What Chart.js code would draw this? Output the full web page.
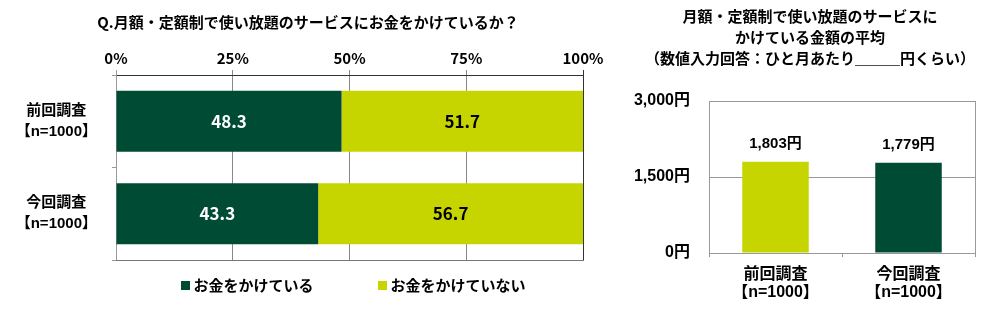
<!DOCTYPE html>
<html><head><meta charset="utf-8">
<script src="https://cdn.jsdelivr.net/npm/chart.js@4/dist/chart.umd.min.js"></script>
<style>
html,body{margin:0;padding:0;background:#fff;width:1000px;height:310px;overflow:hidden;position:relative;}
#c1{position:absolute;left:0;top:0;}
#c2{position:absolute;left:620px;top:0;}
</style></head><body>
<canvas id="c1" width="616" height="310"></canvas>
<canvas id="c2" width="380" height="310"></canvas>
<script>
// ---- data ----
const categories = [['前回調査','【n=1000】'], ['今回調査','【n=1000】']];
const seriesNames = ['お金をかけている', 'お金をかけていない'];
const spendingShare = [48.3, 43.3];
const notSpendingShare = [51.7, 56.7];
const percentTicks = [0, 25, 50, 75, 100];
const averageAmount = [1803, 1779];
const yenTicks = [0, 1500, 3000];
const leftTitle = 'Q.月額・定額制で使い放題のサービスにお金をかけているか？';
const rightTitle = ['月額・定額制で使い放題のサービスに', 'かけている金額の平均', '（数値入力回答：ひと月あたり＿＿＿円くらい）'];

// ---- styles ----
const DARK = '#004b33';
const LIME = '#c6d500';
const JP = "'Noto Sans CJK JP', sans-serif";
const NUMN = "'Liberation Sans Narrow', 'Noto Sans CJK JP', sans-serif";
const NUM = "'Liberation Sans', 'Noto Sans CJK JP', sans-serif";
const commas = v => String(v).replace(/\B(?=(\d{3})+(?!\d))/g, ',');

const insideLabels = {
  id: 'insideLabels',
  afterDatasetsDraw(chart) {
    const ctx = chart.ctx;
    const colors = ['#ffffff', '#000000'];
    chart.data.datasets.forEach((ds, i) => {
      chart.getDatasetMeta(i).data.forEach((el, j) => {
        ctx.save();
        ctx.font = "bold 17px " + NUMN;
        ctx.fillStyle = colors[i];
        ctx.textAlign = 'center';
        ctx.textBaseline = 'middle';
        ctx.fillText(ds.data[j].toFixed(1), (el.x + el.base) / 2, el.y);
        ctx.restore();
      });
    });
  }
};

const bottomLegend = {
  id: 'bottomLegend',
  afterDraw(chart) {
    const ctx = chart.ctx;
    ctx.save();
    ctx.font = "bold 15px " + JP;
    ctx.textBaseline = 'middle';
    ctx.textAlign = 'left';
    const items = chart.data.datasets.map(d => ({t: d.label, c: d.backgroundColor, w: ctx.measureText(d.label).width}));
    const box = 9, gap = 3, sp = 65;
    const total = items.reduce((a, it) => a + box + gap + it.w, 0) + sp * (items.length - 1);
    let x = (chart.chartArea.left + chart.chartArea.right) / 2 + 4 - total / 2;
    const y = chart.chartArea.bottom + 25;
    items.forEach(it => {
      ctx.fillStyle = it.c;
      ctx.fillRect(Math.round(x), Math.round(y - 4.5), box, box);
      ctx.fillStyle = '#000';
      ctx.fillText(it.t, x + box + gap, y);
      x += box + gap + it.w + sp;
    });
    ctx.restore();
  }
};

const topLabels = {
  id: 'topLabels',
  afterDatasetsDraw(chart) {
    const ctx = chart.ctx;
    chart.data.datasets.forEach((ds, i) => {
      chart.getDatasetMeta(i).data.forEach((el, j) => {
        ctx.save();
        ctx.font = "bold 15px " + NUM;
        ctx.fillStyle = '#000';
        ctx.textAlign = 'center';
        ctx.textBaseline = 'middle';
        ctx.fillText(commas(ds.data[j]) + '円', el.x, el.y - 18);
        ctx.restore();
      });
    });
  }
};

new Chart(document.getElementById('c1'), {
  type: 'bar',
  data: {
    labels: categories,
    datasets: [
      {label: seriesNames[0], data: spendingShare, backgroundColor: DARK, xAxisID: 'x', yAxisID: 'y'},
      {label: seriesNames[1], data: notSpendingShare, backgroundColor: LIME, xAxisID: 'x', yAxisID: 'y'}
    ]
  },
  options: {
    indexAxis: 'y', responsive: false, animation: false, devicePixelRatio: 1,
    layout: {padding: {top: 0, bottom: 50, left: 0, right: 0}},
    datasets: {bar: {barPercentage: 0.66, categoryPercentage: 1, borderWidth: 0}},
    plugins: {
      legend: {display: false}, tooltip: {enabled: false},
      title: {display: true, text: leftTitle, color: '#000',
        font: {family: JP, size: 15, weight: 'bold', lineHeight: 1.2}, padding: {top: 13, bottom: 0}}
    },
    scales: {
      x: {
        position: 'top', stacked: true, min: 0, max: 100,
        afterBuildTicks: s => { s.ticks = percentTicks.map(v => ({value: v})); },
        ticks: {callback: v => v + '%', color: '#000', padding: 3, maxRotation: 0,
          font: {family: NUMN, size: 15, weight: 'bold', lineHeight: 1.2}},
        grid: {tickLength: 5, color: c => (c.tick && c.tick.value === 100) ? '#333' : (c.tick && c.tick.value === 0) ? '#999' : '#888'},
        border: {color: '#333'},
        afterFit: s => { s.height = 44; }
      },
      y: {
        stacked: true,
        ticks: {crossAlign: 'center', padding: 15, color: '#000',
          font: {family: NUM, size: 15, weight: 'bold', lineHeight: 1.4}},
        grid: {drawOnChartArea: false, tickLength: 4, color: '#999'},
        border: {color: '#999'},
        afterFit: s => { s.width = 116; }
      },
      x2: {type: 'linear', position: 'bottom', display: true, ticks: {display: false}, grid: {display: false},
        border: {color: '#777'}, afterFit: s => { s.height = 0; }},
      yR: {type: 'linear', position: 'right', display: true, ticks: {display: false}, grid: {display: false},
        border: {display: false}, afterFit: s => { s.width = 33; }}
    }
  },
  plugins: [insideLabels, bottomLegend]
});

new Chart(document.getElementById('c2'), {
  type: 'bar',
  data: {
    labels: categories,
    datasets: [{label: '平均金額', data: averageAmount, backgroundColor: [LIME, DARK], xAxisID: 'x', yAxisID: 'y'}]
  },
  options: {
    responsive: false, animation: false, devicePixelRatio: 1,
    layout: {padding: 0},
    datasets: {bar: {barPercentage: 0.5, categoryPercentage: 1, borderWidth: 0}},
    plugins: {
      legend: {display: false}, tooltip: {enabled: false},
      title: {display: true, text: rightTitle, color: '#000',
        font: {family: JP, size: 15, weight: 'bold', lineHeight: 1.4}, padding: {top: 5.5, bottom: 32.5}}
    },
    scales: {
      x: {
        ticks: {color: '#000', padding: 9, maxRotation: 0, font: {family: NUM, size: 16, weight: 'bold', lineHeight: 1.125}},
        grid: {drawOnChartArea: false, tickLength: 4, color: '#999'},
        border: {color: '#999'},
        afterFit: s => { s.height = 57; }
      },
      y: {
        min: 0, max: 3000,
        afterBuildTicks: s => { s.ticks = yenTicks.map(v => ({value: v})); },
        ticks: {callback: v => commas(v) + '円', color: '#000', padding: 19,
          font: {family: NUM, size: 16, weight: 'bold'}},
        grid: {color: '#999', drawTicks: false},
        border: {color: '#999'},
        afterFit: s => { s.width = 89; }
      },
      yR: {type: 'linear', position: 'right', display: true, ticks: {display: false}, grid: {display: false},
        border: {color: '#999'}, afterFit: s => { s.width = 25; }}
    }
  },
  plugins: [topLabels]
});
</script>
</body></html>
